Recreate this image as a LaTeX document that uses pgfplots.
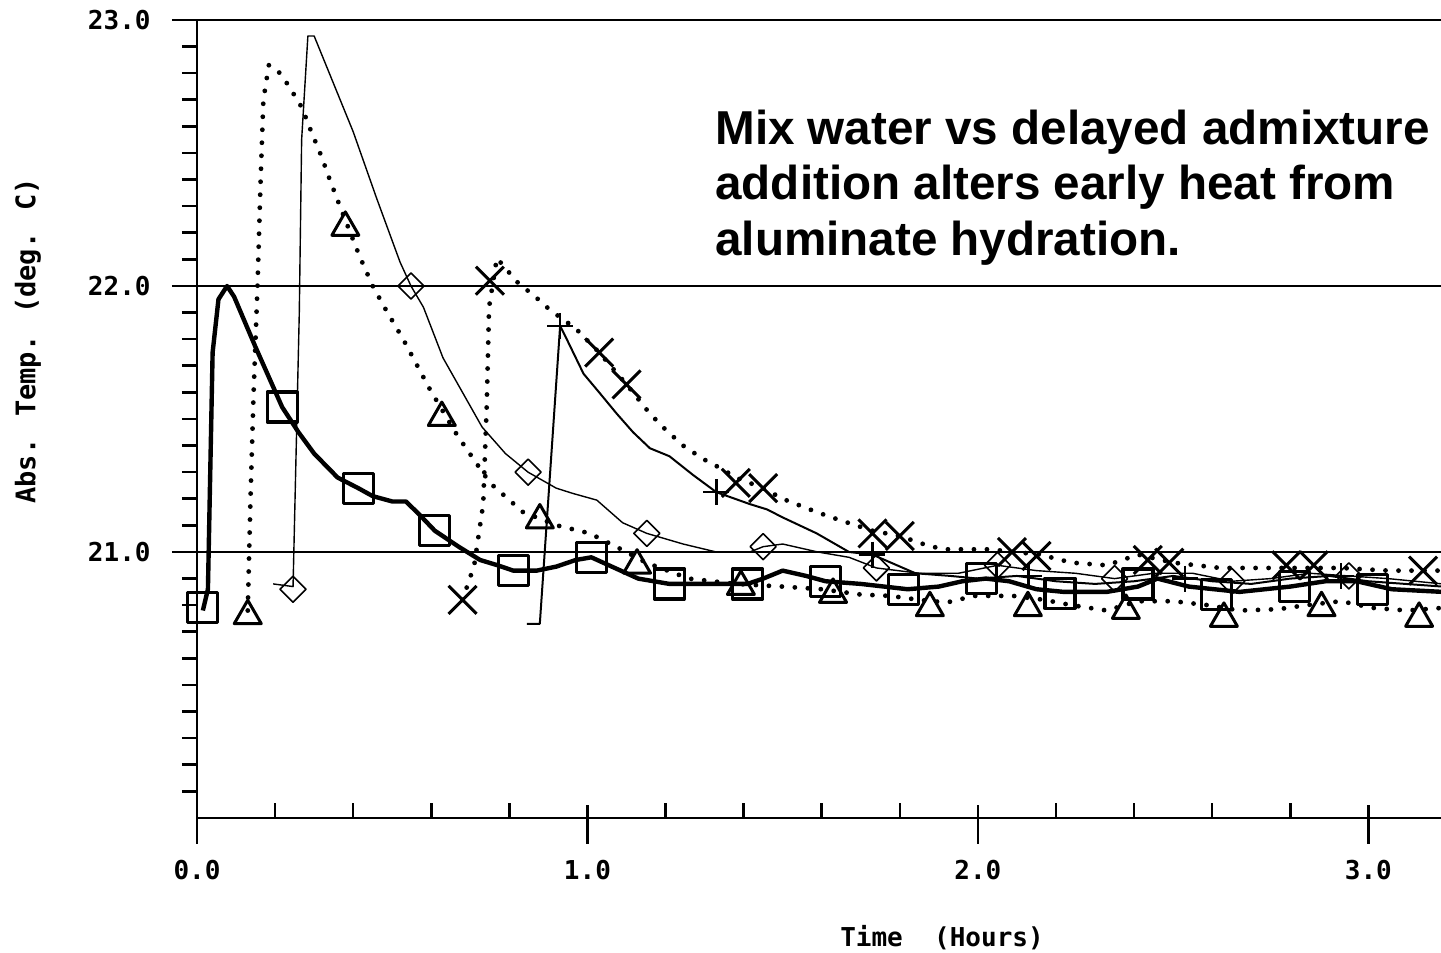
\documentclass[border=0pt]{standalone}
\usepackage{pgfplots}
\pgfplotsset{compat=1.18}
\usepackage{fontspec}
\setmainfont{Liberation Sans}
\newfontfamily\plotfont{DejaVu Sans Mono}
\begin{document}
\begin{tikzpicture}
\begin{axis}[
  scale only axis, width=622pt, height=399pt,
  xmin=0, xmax=3.186, ymin=20, ymax=23,
  axis lines*=left,
  axis line style={-, line width=1.4pt, black},
  xtick={0,1,2,3},
  minor xtick={0.2,0.4,0.6,0.8,1.2,1.4,1.6,1.8,2.2,2.4,2.6,2.8,3.2},
  ytick={21,22,23},
  minor ytick={20.1,20.2,20.3,20.4,20.5,20.6,20.7,20.8,20.9,21.1,21.2,21.3,21.4,21.5,21.6,21.7,21.8,21.9,22.1,22.2,22.3,22.4,22.5,22.6,22.7,22.8,22.9},
  xtick align=inside, ytick align=outside,
  major tick length=6.5pt, minor tick length=7.5pt,
  every tick/.style={black, line width=1.3pt},
  extra y ticks={21,22,23}, extra y tick labels={},
  extra y tick style={ytick align=outside, major tick length=12.5pt},
  ymajorgrids,
  grid style={black, line width=1.2pt},
  /pgf/number format/assume math mode=true,
  /pgf/number format/fixed,
  /pgf/number format/fixed zerofill,
  /pgf/number format/precision=1,
  tick label style={font=\plotfont\bfseries\fontsize{13}{15}\selectfont, black},
  yticklabel style={inner sep=0pt, xshift=-16.5pt},
  xticklabel style={inner sep=0pt, yshift=-21pt},
  every axis plot/.append style={line join=round},
]
% thick solid with squares
\addplot[black, line width=2.2pt] coordinates {
(0.015,20.78) (0.028,20.86) (0.040,21.75) (0.055,21.95) (0.077,22.00) (0.095,21.96) (0.150,21.77) (0.218,21.545) (0.260,21.45) (0.300,21.37) (0.360,21.28) (0.413,21.24) (0.450,21.21) (0.500,21.19) (0.535,21.19) (0.570,21.14) (0.609,21.08) (0.670,21.02) (0.725,20.97) (0.770,20.95) (0.810,20.93) (0.870,20.93) (0.920,20.945) (0.970,20.97) (1.010,20.98) (1.070,20.94) (1.130,20.90) (1.210,20.88) (1.300,20.88) (1.410,20.88) (1.450,20.90) (1.500,20.93) (1.560,20.91) (1.610,20.89) (1.700,20.88) (1.820,20.86) (1.900,20.87) (1.960,20.89) (2.020,20.90) (2.080,20.89) (2.150,20.86) (2.220,20.85) (2.330,20.85) (2.410,20.87) (2.460,20.90) (2.540,20.87) (2.670,20.85) (2.800,20.87) (2.890,20.89) (2.970,20.89) (3.060,20.86) (3.190,20.85)
};
\addplot[only marks, mark=square, mark size=7.5pt, mark options={black, solid, line width=1.6pt}] coordinates {
(0.015,20.79) (0.218,21.545) (0.413,21.24) (0.609,21.08) (0.810,20.93) (1.010,20.98) (1.210,20.88) (1.410,20.88) (1.610,20.89) (1.810,20.86) (2.010,20.90) (2.210,20.845) (2.410,20.88) (2.610,20.84) (2.810,20.87) (3.010,20.86)
};
% dotted with triangles
\addplot[black, line width=2.4pt, line cap=round, dash pattern=on 0pt off 6.5pt] coordinates {
(0.130,20.78) (0.137,21.20) (0.145,21.60) (0.155,22.00) (0.163,22.40) (0.170,22.70) (0.184,22.83) (0.200,22.82) (0.218,22.79) (0.240,22.74) (0.269,22.67) (0.290,22.59) (0.318,22.49) (0.340,22.40) (0.366,22.30) (0.390,22.21) (0.417,22.11) (0.450,22.00) (0.484,21.91) (0.528,21.80) (0.597,21.61) (0.666,21.44) (0.750,21.26) (0.835,21.15) (0.922,21.10) (1.006,21.07) (1.100,21.00) (1.150,20.96) (1.260,20.90) (1.380,20.88) (1.500,20.87) (1.600,20.86) (1.700,20.84) (1.775,20.835) (1.850,20.82) (1.920,20.81) (1.990,20.835) (2.090,20.835) (2.170,20.82) (2.240,20.80) (2.330,20.78) (2.410,20.815) (2.500,20.815) (2.590,20.80) (2.670,20.78) (2.770,20.785) (2.840,20.80) (2.930,20.815) (3.010,20.79) (3.100,20.78) (3.190,20.79)
};
\addplot[only marks, mark=triangle, mark size=7.8pt, mark options={black, solid, line width=1.5pt}] coordinates {
(0.130,20.76) (0.380,22.22) (0.627,21.505) (0.878,21.12) (1.127,20.95) (1.393,20.87) (1.629,20.84) (1.877,20.79) (2.128,20.79) (2.379,20.78) (2.630,20.75) (2.880,20.79) (3.130,20.75)
};
% thin solid with diamonds
\addplot[black, line width=0.7pt] coordinates {
(0.195,20.88) (0.246,20.87) (0.262,21.90) (0.268,22.55) (0.284,22.94) (0.300,22.94) (0.350,22.76) (0.400,22.58) (0.460,22.33) (0.520,22.09) (0.548,22.00) (0.580,21.92) (0.630,21.73) (0.680,21.60) (0.730,21.47) (0.790,21.37) (0.848,21.30) (0.920,21.24) (0.963,21.22) (1.024,21.195) (1.090,21.11) (1.152,21.07) (1.245,21.03) (1.330,21.00) (1.416,21.00) (1.450,21.02) (1.500,21.03) (1.590,21.00) (1.670,20.98) (1.740,20.94) (1.850,20.92) (1.950,20.92) (2.050,20.95) (2.150,20.93) (2.250,20.92) (2.350,20.90) (2.450,20.92) (2.550,20.92) (2.650,20.89) (2.750,20.90) (2.850,20.92) (2.950,20.91) (3.050,20.90) (3.190,20.88)
};
\addplot[only marks, mark=square, mark size=4.6pt, mark options={black, solid, rotate=45, line width=0.8pt}] coordinates {
(0.246,20.86) (0.548,22.00) (0.848,21.30) (1.152,21.07) (1.450,21.02) (1.740,20.94) (2.050,20.95) (2.350,20.90) (2.650,20.89) (2.950,20.91)
};
% solid with plus
\addplot[black, line width=1.0pt] coordinates {
(0.845,20.73) (0.878,20.73) (0.930,21.85) (0.947,21.80) (0.990,21.67) (1.030,21.60) (1.075,21.52) (1.117,21.45) (1.160,21.39) (1.210,21.36) (1.270,21.29) (1.330,21.225) (1.416,21.18) (1.460,21.16) (1.500,21.13) (1.587,21.07) (1.670,21.00) (1.730,20.99) (1.840,20.92) (1.930,20.91) (2.000,20.90) (2.100,20.91) (2.200,20.89) (2.300,20.88) (2.400,20.89) (2.500,20.91) (2.600,20.89) (2.700,20.88) (2.800,20.90) (2.900,20.91) (3.000,20.89) (3.190,20.87)
};
\addplot[only marks, mark=+, mark size=6.5pt, mark options={black, solid, line width=1.2pt}] coordinates {
(0.930,21.85) (1.330,21.225) (1.730,20.99) (2.130,20.91) (2.530,20.90) (2.930,20.91)
};
% dotted with crosses
\addplot[black, line width=2.4pt, line cap=round, dash pattern=on 0pt off 6.5pt] coordinates {
(0.680,20.82) (0.710,20.95) (0.733,21.18) (0.742,21.55) (0.745,21.73) (0.748,21.92) (0.768,22.105) (0.820,22.015) (0.870,21.955) (0.904,21.91) (0.970,21.84) (1.030,21.75) (1.100,21.63) (1.160,21.52) (1.200,21.46) (1.245,21.40) (1.296,21.35) (1.347,21.31) (1.380,21.28) (1.450,21.24) (1.500,21.20) (1.587,21.15) (1.646,21.12) (1.730,21.08) (1.800,21.06) (1.860,21.03) (1.910,21.01) (2.030,21.01) (2.160,20.99) (2.240,20.96) (2.330,20.95) (2.410,20.99) (2.500,20.96) (2.620,20.94) (2.710,20.94) (2.790,20.94) (2.930,20.94) (3.050,20.93) (3.190,20.93)
};
\addplot[only marks, mark=x, mark size=9.9pt, mark options={black, solid, line width=1.5pt}] coordinates {
(0.680,20.82) (0.750,22.02) (1.030,21.75) (1.100,21.63) (1.380,21.26) (1.450,21.24) (1.730,21.07) (1.800,21.06) (2.087,21.00) (2.150,20.985) (2.435,20.97) (2.490,20.96) (2.790,20.95) (2.860,20.95) (3.140,20.93)
};
\end{axis}
% outward parts of the major time ticks (axis scale: 622pt / 3.186 h)
\foreach \t in {0,1,2,3} {
  \draw[black, line width=1.3pt] ({\t*622/3.186*1pt},0.7pt) -- ++(0,-13.5pt);
}
\node[anchor=base west, inner sep=0pt, font=\bfseries\fontsize{23.8}{28}\selectfont] at (259pt,336.5pt) {Mix water vs delayed admixture};
\node[anchor=base west, inner sep=0pt, font=\bfseries\fontsize{23.8}{28}\selectfont] at (259pt,309pt) {addition alters early heat from};
\node[anchor=base west, inner sep=0pt, font=\bfseries\fontsize{23.8}{28}\selectfont] at (259pt,281pt) {aluminate hydration.};
\node[rotate=90, inner sep=0pt, font=\plotfont\bfseries\fontsize{13.5}{15}\selectfont] at (-84.5pt,238.5pt) {Abs. Temp. (deg. C)};
\node[inner sep=0pt, font=\plotfont\bfseries\fontsize{13}{15}\selectfont] at (372.5pt,-60pt) {Time\ \ (Hours)};
\pgfresetboundingbox
\useasboundingbox (-98.5pt,-67.5pt) rectangle (622pt,409pt);
\end{tikzpicture}
\end{document}
